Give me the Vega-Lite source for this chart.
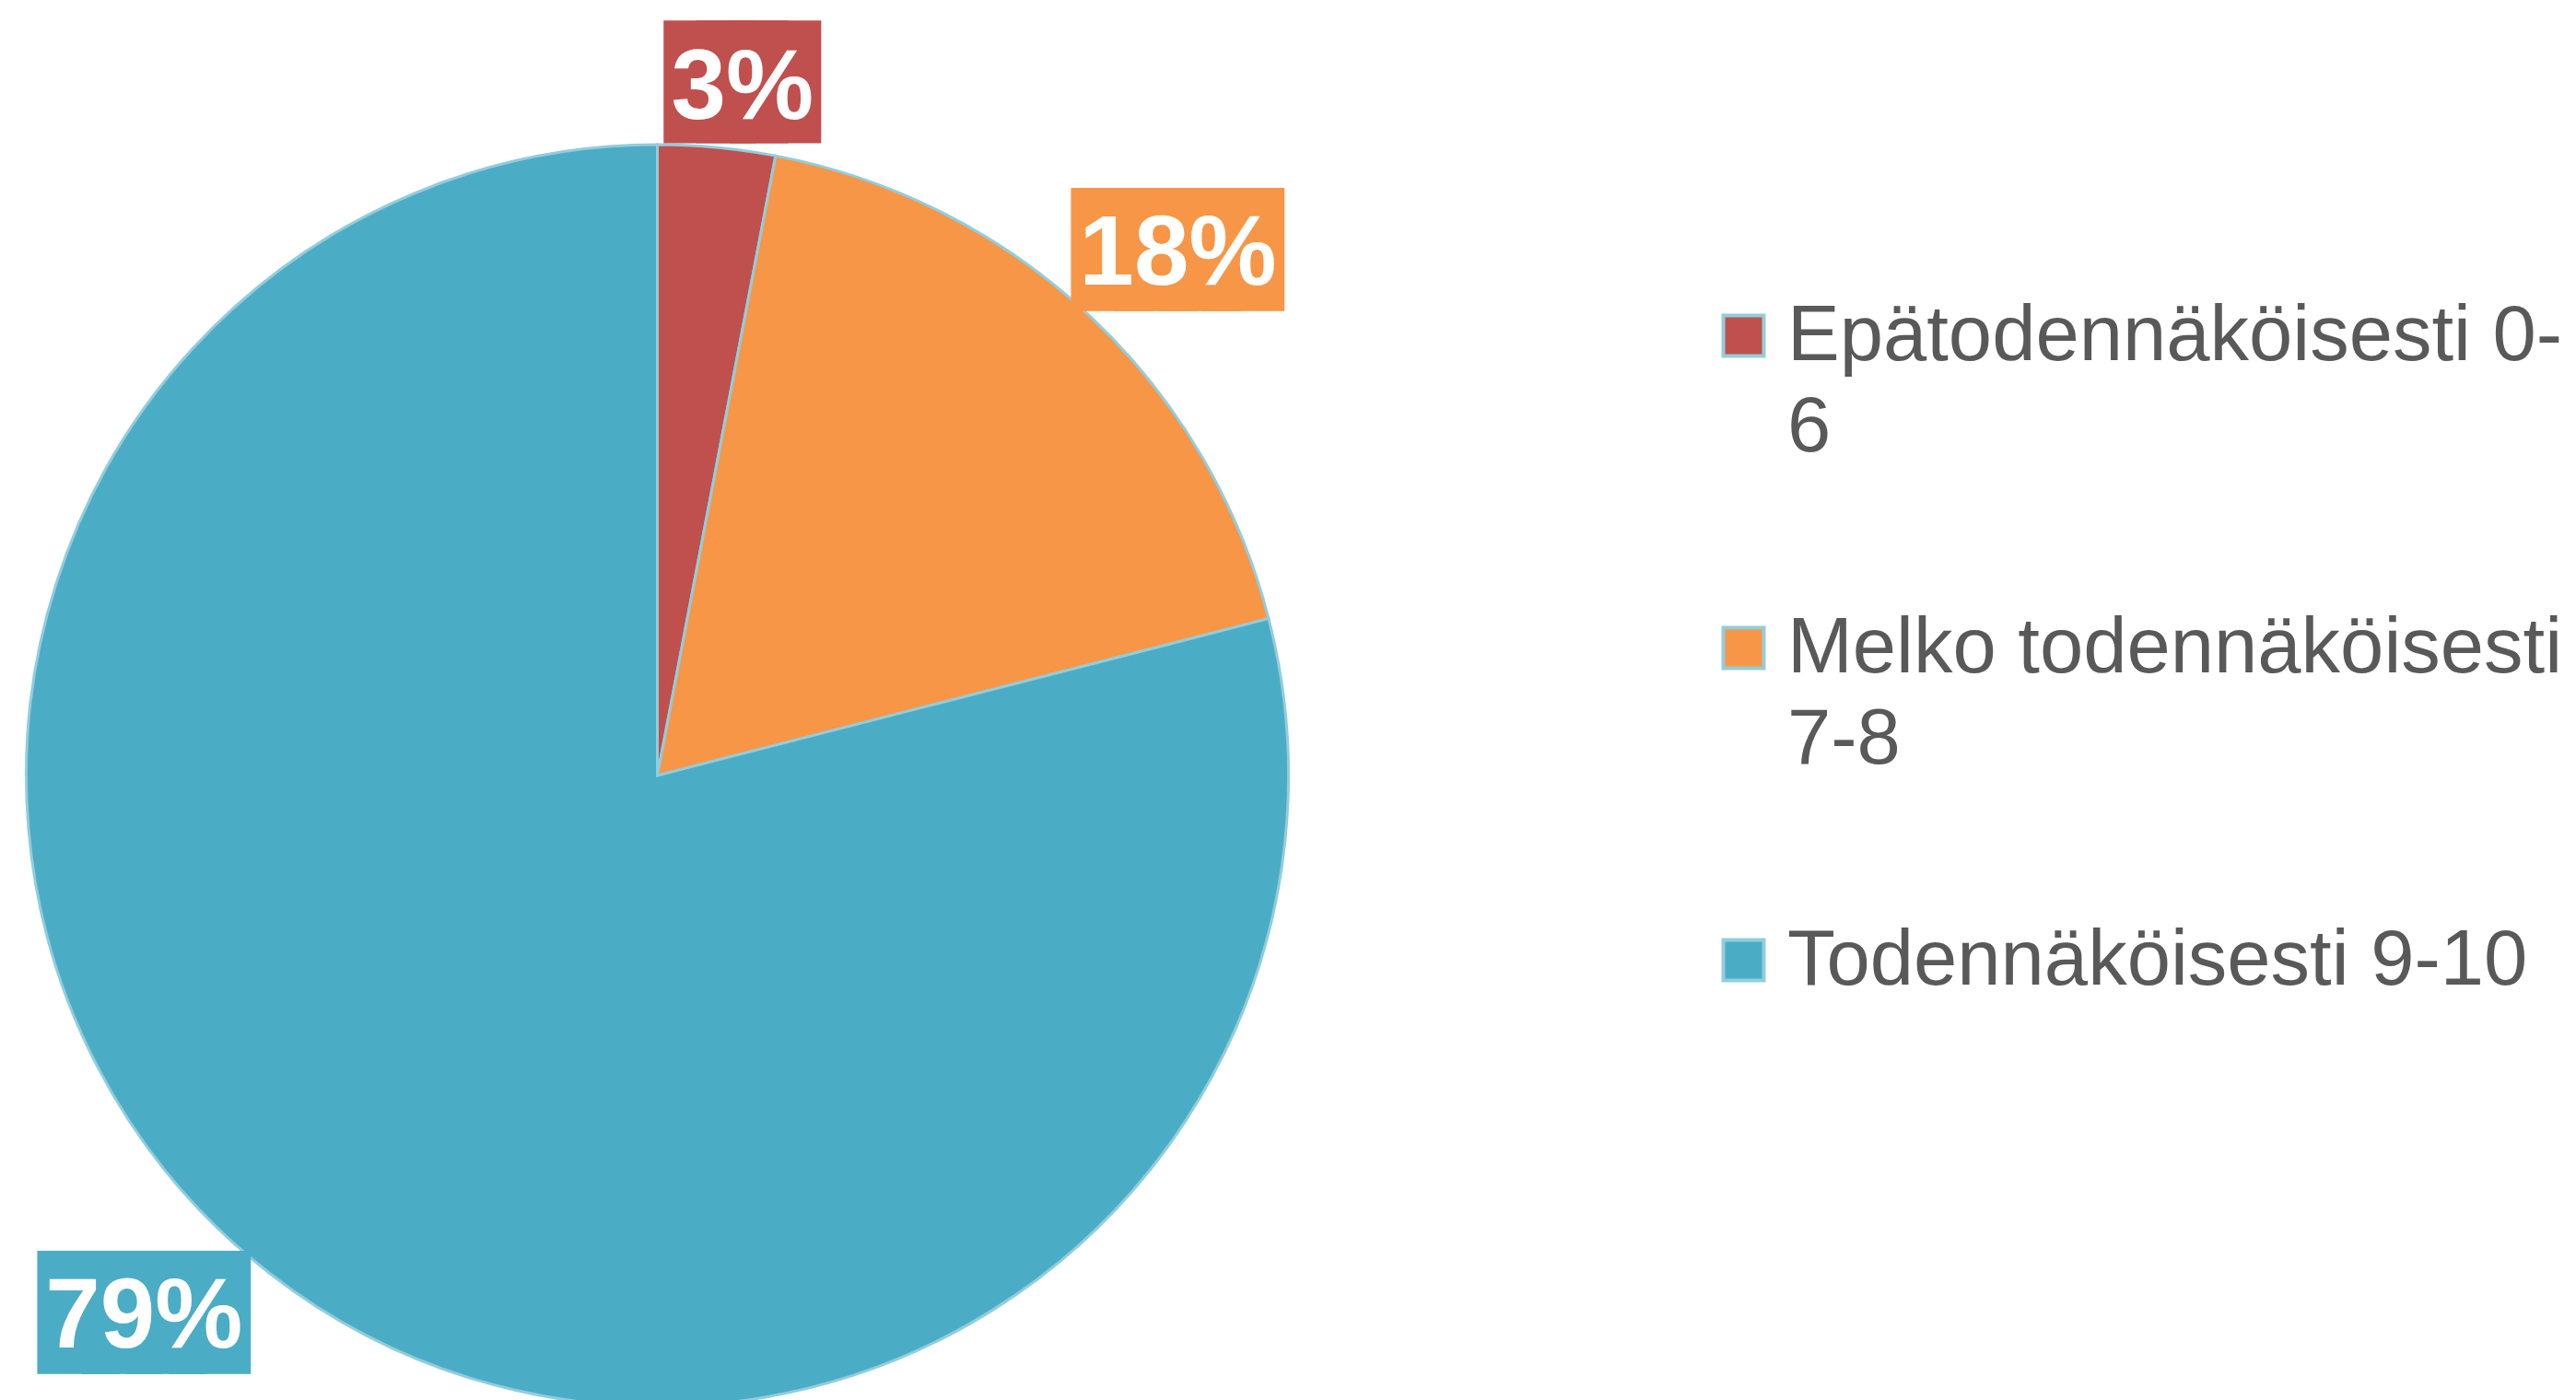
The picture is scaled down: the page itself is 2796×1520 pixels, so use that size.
{
  "$schema": "https://vega.github.io/schema/vega-lite/v6.json",
  "autosize": "none",
  "width": 1427,
  "height": 1356,
  "padding": {"left": 0, "top": 164, "right": 1369, "bottom": 0},
  "background": "white",
  "config": {"view": {"stroke": null}},
  "data": {"values": [
    {"cat": "Epätodennäköisesti 0-6", "share": 0.03},
    {"cat": "Melko todennäköisesti 7-8", "share": 0.18},
    {"cat": "Todennäköisesti 9-10", "share": 0.79}
  ]},
  "encoding": {
    "theta": {"field": "share", "type": "quantitative", "stack": true},
    "order": {"field": "share", "type": "quantitative"}
  },
  "layer": [
    {
      "mark": {"type": "arc", "radius": 685, "stroke": "#92CDDC", "strokeWidth": 3},
      "encoding": {
        "color": {
          "field": "cat", "type": "nominal",
          "scale": {"domain": ["Epätodennäköisesti 0-6", "Melko todennäköisesti 7-8", "Todennäköisesti 9-10"], "range": ["#C0504D", "#F79646", "#4BACC6"]},
          "legend": {
            "title": null, "orient": "none", "legendX": 1850, "legendY": 158,
            "symbolType": "square", "symbolSize": 1936, "symbolStrokeColor": "#92CDDC", "symbolStrokeWidth": 4,
            "labelFont": "Liberation Sans", "labelFontSize": 85, "labelColor": "#595959",
            "labelOffset": 5, "labelLimit": 2000, "rowPadding": 154, "gridAlign": "all", "padding": 0,
            "labelBaseline": "middle",
            "labelExpr": "datum.label == 'Epätodennäköisesti 0-6' ? ['Epätodennäköisesti 0-', '6'] : datum.label == 'Melko todennäköisesti 7-8' ? ['Melko todennäköisesti', '7-8'] : datum.label",
            "encoding": {"labels": {"lineHeight": {"value": 99}}}
          }
        }
      }
    },
    {
      "mark": {"type": "text", "radius": 780, "font": "DejaVu Sans Mono", "fontSize": 59.2, "fill": "#C0504D", "stroke": "#C0504D", "strokeWidth": 63, "strokeJoin": "miter", "align": "center", "baseline": "alphabetic", "dx": 19, "dy": 44},
      "encoding": {
        "text": {"value": "███"},
        "opacity": {"condition": {"test": "datum.cat === 'Epätodennäköisesti 0-6'", "value": 1}, "value": 0}
      }
    },
    {
      "mark": {"type": "text", "radius": 780, "font": "DejaVu Sans Mono", "fontSize": 78.8, "fill": "#F79646", "stroke": "#F79646", "strokeWidth": 40.3, "strokeJoin": "miter", "align": "center", "baseline": "alphabetic", "dx": 31, "dy": 25},
      "encoding": {
        "text": {"value": "████"},
        "opacity": {"condition": {"test": "datum.cat === 'Melko todennäköisesti 7-8'", "value": 1}, "value": 0}
      }
    },
    {
      "mark": {"type": "text", "radius": 780, "font": "DejaVu Sans Mono", "fontSize": 78.8, "fill": "#4BACC6", "stroke": "#4BACC6", "strokeWidth": 40.3, "strokeJoin": "miter", "align": "center", "baseline": "alphabetic", "dx": -79, "dy": -6},
      "encoding": {
        "text": {"value": "████"},
        "opacity": {"condition": {"test": "datum.cat === 'Todennäköisesti 9-10'", "value": 1}, "value": 0}
      }
    },
    {
      "mark": {"type": "text", "radius": 780, "font": "Liberation Sans", "fontWeight": "bold", "fontSize": 107, "fill": "white", "align": "center", "baseline": "middle", "dx": 19, "dy": 32},
      "encoding": {
        "text": {"field": "share", "type": "quantitative", "format": ".0%"},
        "opacity": {"condition": {"test": "datum.cat === 'Epätodennäköisesti 0-6'", "value": 1}, "value": 0}
      }
    },
    {
      "mark": {"type": "text", "radius": 780, "font": "Liberation Sans", "fontWeight": "bold", "fontSize": 107, "fill": "white", "align": "center", "baseline": "middle", "dx": 31, "dy": 4},
      "encoding": {
        "text": {"field": "share", "type": "quantitative", "format": ".0%"},
        "opacity": {"condition": {"test": "datum.cat === 'Melko todennäköisesti 7-8'", "value": 1}, "value": 0}
      }
    },
    {
      "mark": {"type": "text", "radius": 780, "font": "Liberation Sans", "fontWeight": "bold", "fontSize": 107, "fill": "white", "align": "center", "baseline": "middle", "dx": -79, "dy": -27},
      "encoding": {
        "text": {"field": "share", "type": "quantitative", "format": ".0%"},
        "opacity": {"condition": {"test": "datum.cat === 'Todennäköisesti 9-10'", "value": 1}, "value": 0}
      }
    }
  ]
}
